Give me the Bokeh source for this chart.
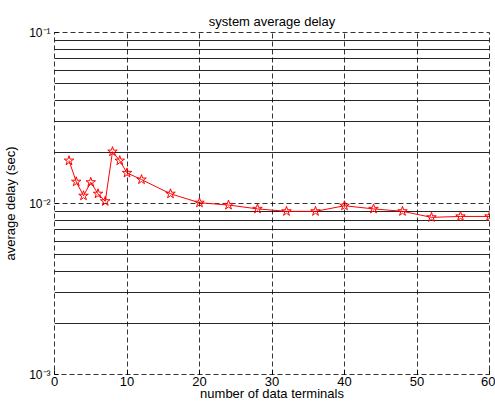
from bokeh.plotting import figure
from bokeh.embed import file_html
from bokeh.resources import INLINE
from bokeh.models import Range1d, Grid, FixedTicker

# data
terminals = [2, 3, 4, 5, 6, 7, 8, 9, 10, 12, 16, 20, 24, 28, 32, 36, 40, 44, 48, 52, 56, 60]
avg_delay = [0.0178, 0.0134, 0.0111, 0.0133, 0.0114, 0.0103, 0.0201, 0.0178, 0.0151, 0.0138,
             0.0114, 0.0101, 0.0098, 0.0093, 0.0090, 0.0090, 0.0097, 0.0093, 0.0090, 0.0083,
             0.0084, 0.0084]
x_ticks = [0, 10, 20, 30, 40, 50, 60]
y_ticks = [0.001, 0.01, 0.1]
y_tick_labels = {0.001: "10\u207b\u00b3", 0.01: "10\u207b\u00b2", 0.1: "10\u207b\u00b9"}
minor_y = [m * d for d in (0.001, 0.01) for m in range(2, 10)]

FONT = "Liberation Sans"

p = figure(width=495, height=407, y_axis_type="log",
           x_range=Range1d(0, 60), y_range=Range1d(0.001, 0.1),
           output_backend="svg", toolbar_location=None,
           min_border_left=54, min_border_right=6, min_border_top=32, min_border_bottom=33,
           title="system average delay")
p.outline_line_color = "black"
p.outline_line_dash = "5 3"
p.outline_line_alpha = 0.8
p.background_fill_color = "white"
p.border_fill_color = "white"

p.title.align = "center"
p.title.text_font = FONT
p.title.text_font_size = "13px"
p.title.text_font_style = "normal"
p.title.text_color = "black"
p.title.standoff = 8

# axes
p.xaxis.ticker = FixedTicker(ticks=x_ticks)
p.yaxis.ticker = FixedTicker(ticks=y_ticks)
p.yaxis.major_label_overrides = y_tick_labels
for ax in (p.xaxis[0], p.yaxis[0]):
    ax.axis_line_color = None
    ax.major_tick_in = 4
    ax.major_tick_out = 0
    ax.major_tick_line_color = "black"
    ax.minor_tick_line_color = None
    ax.major_label_text_font = FONT
    ax.major_label_text_font_size = "13px"
    ax.major_label_text_color = "black"
    ax.axis_label_text_font = FONT
    ax.axis_label_text_font_size = "13px"
    ax.axis_label_text_font_style = "normal"
    ax.axis_label_text_color = "black"
p.yaxis.major_label_text_font_size = "12px"
p.xaxis.axis_label = "number of data terminals"
p.yaxis.axis_label = "average delay (sec)"
p.xaxis.major_label_standoff = 2
p.xaxis.axis_label_standoff = -3
p.yaxis.major_label_standoff = 4
p.yaxis.axis_label_standoff = 8

# grids
p.xgrid.ticker = FixedTicker(ticks=x_ticks)
p.ygrid.ticker = FixedTicker(ticks=y_ticks)
for g in (p.xgrid[0], p.ygrid[0]):
    g.grid_line_color = "black"
    g.grid_line_dash = "5 3"
    g.grid_line_width = 1
    g.grid_line_alpha = 0.8
minor_grid = Grid(dimension=1, ticker=FixedTicker(ticks=minor_y),
                  grid_line_color="black", grid_line_width=1, grid_line_alpha=0.85)
p.add_layout(minor_grid)

# series
p.line(terminals, avg_delay, line_color="red", line_width=1)
p.scatter(terminals, avg_delay, marker="star", size=10, line_color="red",
          fill_color="white", fill_alpha=0.0, line_width=1)

open("out.html", "w").write(file_html(p, INLINE))
